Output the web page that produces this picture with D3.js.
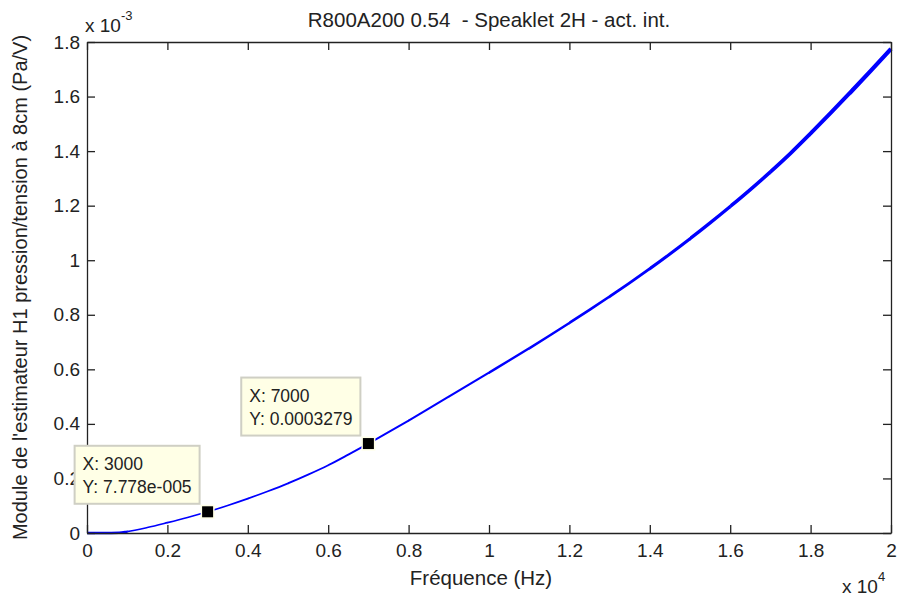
<!DOCTYPE html>
<html>
<head>
<meta charset="utf-8">
<script src="https://cdn.jsdelivr.net/npm/d3@7"></script>
<style>
  body { margin: 0; background: #fff; }
  text { font-family: Arial, "Liberation Sans", sans-serif; fill: #222; }
</style>
</head>
<body>
<svg id="drawing_region"></svg>
<script>
// frequency (Hz) and module of H1 estimator (x 1e-3 Pa/V)
const freq = [0, 400, 800, 1000, 1500, 2000, 2500, 3000, 3500, 4000, 4500, 5000,
  5500, 6000, 6500, 7000, 7500, 8000, 8500, 9000, 9500, 10000, 10500, 11000,
  11500, 12000, 12500, 13000, 13500, 14000, 14500, 15000, 15500, 16000, 16500,
  17000, 17500, 18000, 18500, 19000, 19500, 20000];
const modulus = [0, 0, 0.001, 0.005, 0.02, 0.038, 0.057, 0.0778, 0.101, 0.126, 0.153, 0.182,
  0.214, 0.2485, 0.2875, 0.3279, 0.3695, 0.412, 0.456, 0.5, 0.544, 0.588, 0.632, 0.677,
  0.723, 0.770, 0.818, 0.867, 0.917, 0.969, 1.023, 1.079, 1.137, 1.197, 1.259,
  1.324, 1.392, 1.465, 1.540, 1.617, 1.695, 1.775];

const xTicks = [0, 2000, 4000, 6000, 8000, 10000, 12000, 14000, 16000, 18000, 20000];
const xTickLabels = ["0", "0.2", "0.4", "0.6", "0.8", "1", "1.2", "1.4", "1.6", "1.8", "2"];
const yTicks = [0, 0.2, 0.4, 0.6, 0.8, 1, 1.2, 1.4, 1.6, 1.8];
const yTickLabels = ["0", "0.2", "0.4", "0.6", "0.8", "1", "1.2", "1.4", "1.6", "1.8"];

const tipFreq = [3000, 7000];
const tipValue = [0.07778, 0.3279];
const tipLines = [["X: 3000", "Y: 7.778e-005"], ["X: 7000", "Y: 0.0003279"]];

const config = {
  width: 900,
  height: 602,
  margin: {top: 42, right: 9, bottom: 69, left: 87}
};

const data = freq.map((f, i) => ({x: f, y: modulus[i]}));

const svg = d3.select('#drawing_region')
  .attr('width', config.width)
  .attr('height', config.height);

const inner_width = config.width - config.margin.left - config.margin.right;
const inner_height = config.height - config.margin.top - config.margin.bottom;

const chart = svg.append('g')
  .attr('transform', `translate(${config.margin.left}, ${config.margin.top})`);

const x_scale = d3.scaleLinear().domain([0, 20000]).range([0, inner_width]);
const y_scale = d3.scaleLinear().domain([0, 1.8]).range([inner_height, 0]);

// curve: same path clipped into bands, thicker where the measurement gets noisy
const line = d3.line().x(d => x_scale(d.x)).y(d => y_scale(d.y)).curve(d3.curveMonotoneX);
const curve_d = line(data);
const defs = svg.append('defs');
const bands = d3.range(0, 20000, 1000);
bands.forEach((b, i) => {
  const x0 = x_scale(b) - (i === 0 ? 10 : 0);
  const x1 = x_scale(b + 1000) + (i === bands.length - 1 ? 10 : 0.5);
  defs.append('clipPath').attr('id', `band${i}`)
    .append('rect')
    .attr('x', x0).attr('y', -10)
    .attr('width', x1 - x0)
    .attr('height', inner_height + 20);
  const f = (b + 500) / 20000;
  chart.append('path')
    .attr('clip-path', `url(#band${i})`)
    .attr('d', curve_d)
    .attr('fill', 'none')
    .attr('stroke', '#0000ff')
    .attr('stroke-linejoin', 'round')
    .attr('stroke-width', i === 0 ? 2.4 : 1.6 + 2.8 * f * f);
});

// axes, MATLAB style: inward ticks on all four sides
const axisStyle = g => {
  g.selectAll('path.domain').attr('stroke', '#222').attr('stroke-width', 1.3);
  g.selectAll('.tick line').attr('stroke', '#222').attr('stroke-width', 1.3);
  g.selectAll('.tick text').attr('font-size', 19).attr('fill', '#222')
    .attr('font-family', 'Arial, "Liberation Sans", sans-serif');
};

chart.append('g')
  .attr('transform', `translate(0, ${inner_height})`)
  .call(d3.axisBottom(x_scale).tickValues(xTicks)
    .tickFormat((d, i) => xTickLabels[i]).tickSizeInner(-8).tickSizeOuter(0).tickPadding(11))
  .call(axisStyle);

chart.append('g')
  .call(d3.axisTop(x_scale).tickValues(xTicks)
    .tickFormat('').tickSizeInner(-8).tickSizeOuter(0))
  .call(axisStyle);

chart.append('g')
  .call(d3.axisLeft(y_scale).tickValues(yTicks)
    .tickFormat((d, i) => yTickLabels[i]).tickSizeInner(-8).tickSizeOuter(0).tickPadding(7))
  .call(axisStyle);

chart.append('g')
  .attr('transform', `translate(${inner_width}, 0)`)
  .call(d3.axisRight(y_scale).tickValues(yTicks)
    .tickFormat('').tickSizeInner(-8).tickSizeOuter(0))
  .call(axisStyle);

// exponent labels
const yExp = svg.append('text')
  .attr('x', 85).attr('y', 32).attr('font-size', 19);
yExp.append('tspan').text('x 10');
yExp.append('tspan').attr('dy', -12).attr('font-size', 13).text('-3');

const xExp = svg.append('text')
  .attr('x', 842).attr('y', 593).attr('font-size', 19);
xExp.append('tspan').text('x 10');
xExp.append('tspan').attr('dy', -12).attr('font-size', 13).text('4');

// title and axis labels
svg.append('text')
  .attr('x', config.margin.left + inner_width / 2).attr('y', 27)
  .attr('text-anchor', 'middle').attr('font-size', 20.5)
  .style('white-space', 'pre')
  .text('R800A200 0.54  - Speaklet 2H - act. int.');

svg.append('text')
  .attr('x', config.margin.left + inner_width / 2 - 8).attr('y', 585)
  .attr('text-anchor', 'middle').attr('font-size', 20.5)
  .text('Fréquence (Hz)');

svg.append('text')
  .attr('transform', `translate(27, ${config.margin.top + inner_height / 2}) rotate(-90)`)
  .attr('text-anchor', 'middle').attr('font-size', 20)
  .text("Module de l'estimateur H1 pression/tension à 8cm (Pa/V)");

// data tips
tipFreq.forEach((f, i) => {
  const mx = config.margin.left + x_scale(f);
  const my = config.margin.top + y_scale(tipValue[i]);
  const g = svg.append('g');
  const box = g.append('rect')
    .attr('fill', '#ffffe6').attr('stroke', '#cfcfc4').attr('stroke-width', 2);
  const txt = g.append('text').attr('font-size', 17.5);
  tipLines[i].forEach((s, j) => {
    txt.append('tspan').attr('x', 0).attr('y', 24 + j * 23).text(s);
  });
  const w = txt.node().getBBox().width + 16;
  const h = 58;
  const bx = mx - 8 - w;
  const by = my - 8 - h;
  box.attr('x', bx).attr('y', by).attr('width', w).attr('height', h);
  txt.attr('transform', `translate(${bx + 8}, ${by})`);

  svg.append('rect')
    .attr('x', mx - 7).attr('y', my - 7).attr('width', 14).attr('height', 14)
    .attr('fill', '#ffffe6');
  svg.append('rect')
    .attr('x', mx - 5.5).attr('y', my - 5.5).attr('width', 11).attr('height', 11)
    .attr('fill', '#000');
});
</script>
</body>
</html>
